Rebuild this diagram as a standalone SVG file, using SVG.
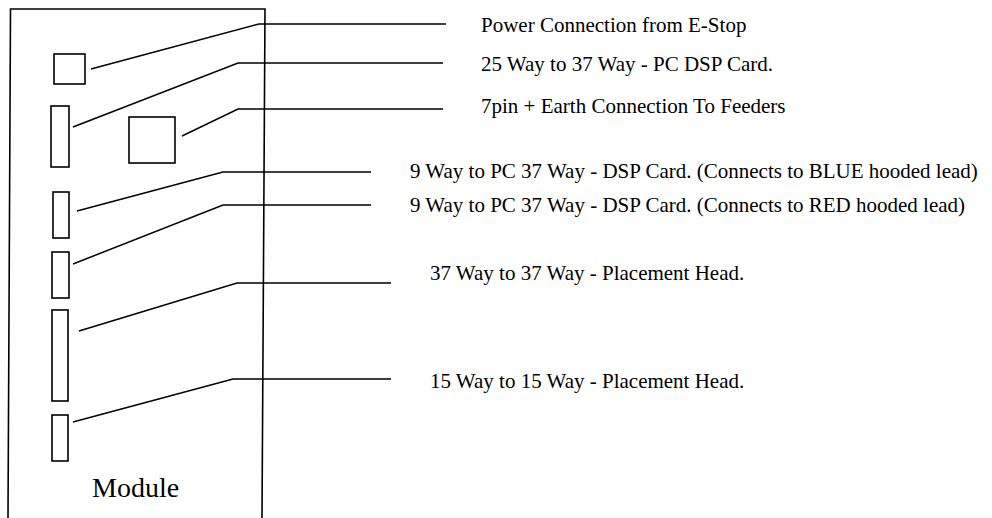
<svg xmlns="http://www.w3.org/2000/svg" width="992" height="518" viewBox="0 0 992 518">
<style>
.s{fill:none;stroke:#000;stroke-width:1.6}
.c{fill:none;stroke:#000;stroke-width:1.5}
text{font-family:'Liberation Serif','Times New Roman',serif;fill:#000}
.t{font-size:21px}
.m{font-size:28px}
</style>
<rect width="992" height="518" fill="#fff"/>
<g id="module">
<path class="s" d="M8,518 L10.5,9 L265,9 L262,518"/>
<text class="m" x="92" y="497">Module</text>
</g>
<g id="power"><rect class="s" x="54" y="54" width="31" height="30"/></g>
<g id="dsp25"><rect class="s" x="51" y="106" width="18" height="61"/></g>
<g id="feeders"><rect class="s" x="129" y="117" width="46" height="46"/></g>
<g id="blue9"><rect class="s" x="53" y="192" width="16" height="46"/></g>
<g id="red9"><rect class="s" x="52" y="252" width="17" height="46"/></g>
<g id="head37"><rect class="s" x="52" y="310" width="16" height="91"/></g>
<g id="head15"><rect class="s" x="52" y="415" width="16" height="46"/></g>
<g id="connectors">
<polyline class="c" points="91,69 259,24 446,24"/>
<polyline class="c" points="73,127 238,63 443,63"/>
<polyline class="c" points="182,136 238,109 443,109"/>
<polyline class="c" points="77,211 223,172 371,172"/>
<polyline class="c" points="73,264 223,205 371,205"/>
<polyline class="c" points="79,331 237,283 391,283"/>
<polyline class="c" points="73,422 233,379 391,379"/>
</g>
<g id="labels">
<text class="t" x="481" y="32">Power Connection from E-Stop</text>
<text class="t" x="481" y="71">25 Way to 37 Way - PC DSP Card.</text>
<text class="t" x="481" y="113">7pin + Earth Connection To Feeders</text>
<text class="t" x="410" y="178">9 Way to PC 37 Way - DSP Card. (Connects to BLUE hooded lead)</text>
<text class="t" x="410" y="212">9 Way to PC 37 Way - DSP Card. (Connects to RED hooded lead)</text>
<text class="t" x="430" y="280">37 Way to 37 Way - Placement Head.</text>
<text class="t" x="430" y="388">15 Way to 15 Way - Placement Head.</text>
</g>
</svg>
